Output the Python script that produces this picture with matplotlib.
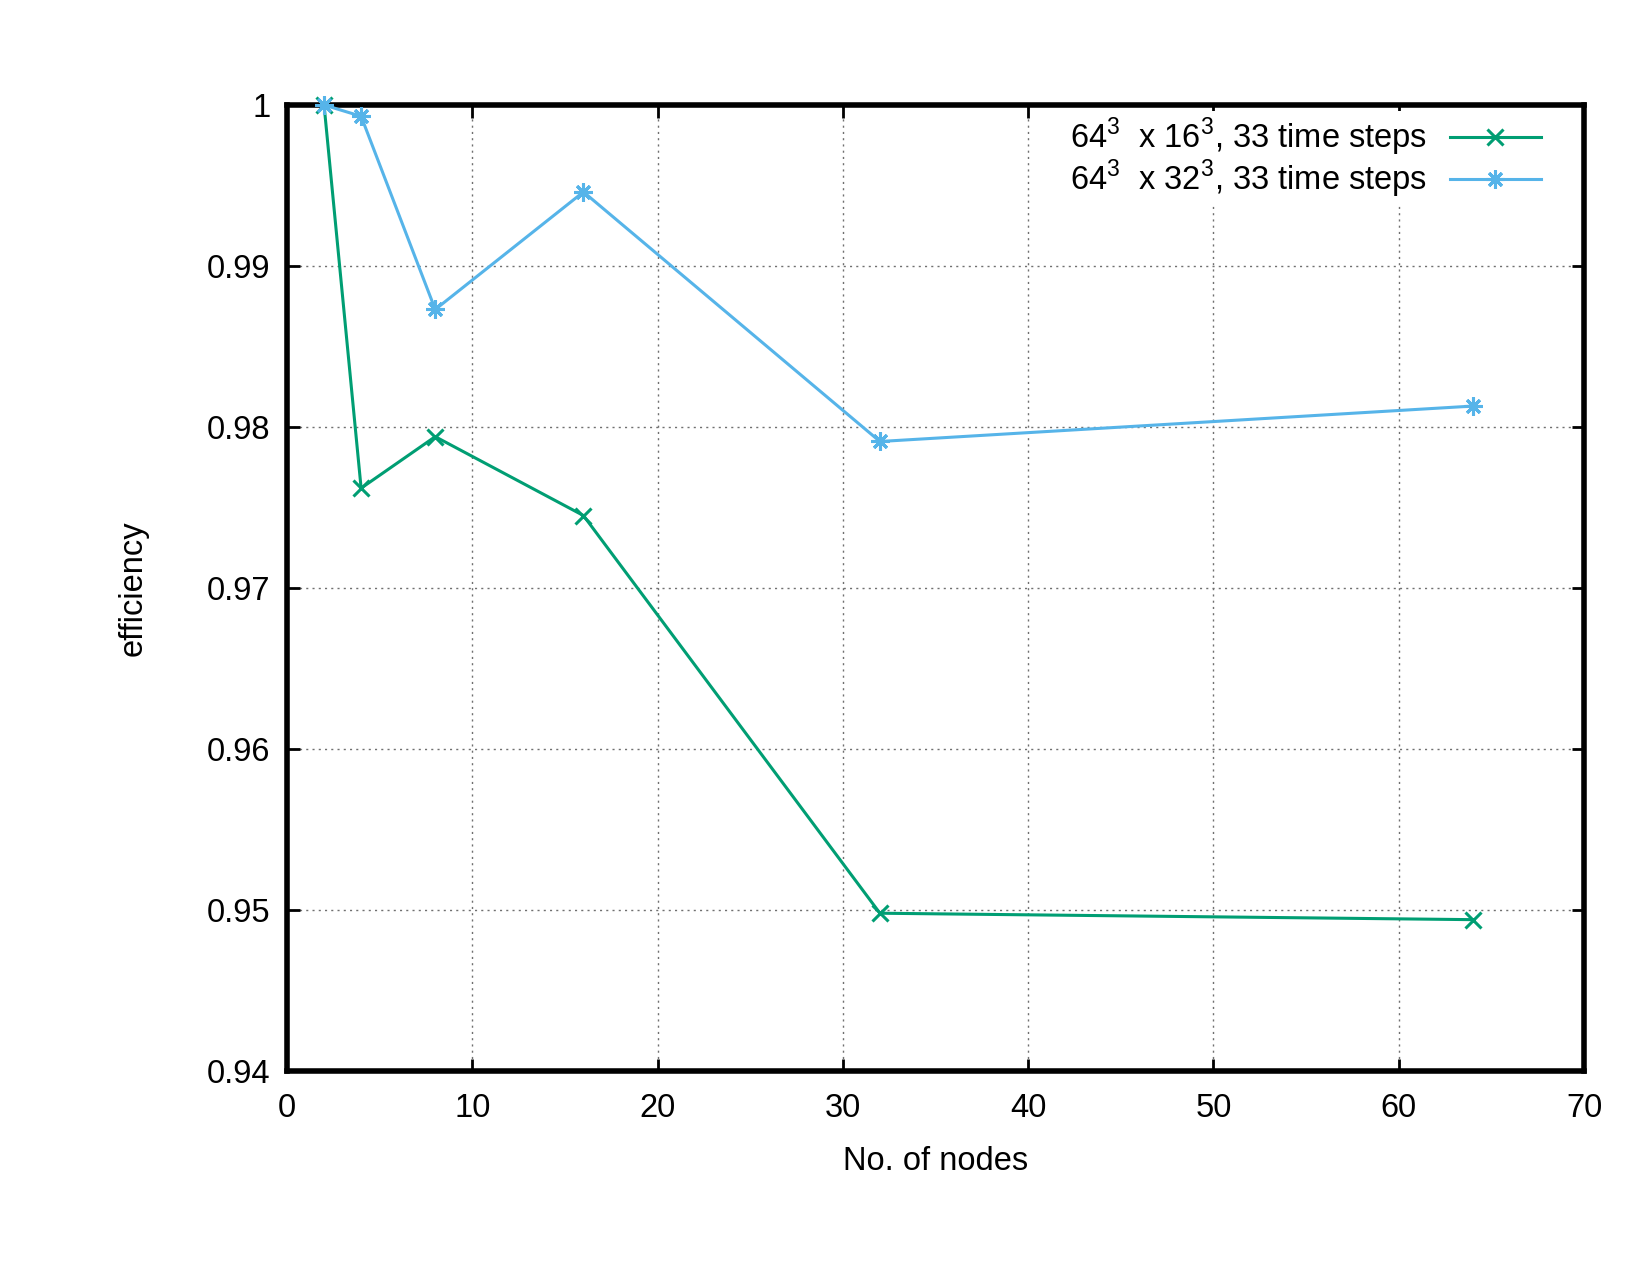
import matplotlib
matplotlib.use("Agg")
import matplotlib.pyplot as plt

plt.rcParams['font.family'] = ['Liberation Sans', 'DejaVu Sans']
plt.rcParams['mathtext.fontset'] = 'custom'
plt.rcParams['mathtext.rm'] = 'Liberation Sans'

nodes = [2, 4, 8, 16, 32, 64]
eff_16 = [1.0, 0.9762, 0.9794, 0.9745, 0.9498, 0.9494]
eff_32 = [1.0, 0.9993, 0.9873, 0.9946, 0.9791, 0.9813]
label_16 = r"64$^3$  x 16$^3$, 33 time steps"
label_32 = r"64$^3$  x 32$^3$, 33 time steps"
xticks = [0, 10, 20, 30, 40, 50, 60, 70]
yticks = [0.94, 0.95, 0.96, 0.97, 0.98, 0.99, 1.0]
yticklabels = ["0.94", "0.95", "0.96", "0.97", "0.98", "0.99", "1"]

W, H = 1650, 1275
L, R, T, B = 287, 1584, 105, 1071
fig = plt.figure(figsize=(W/100, H/100), dpi=100)
ax = fig.add_axes([L/W, 1 - B/H, (R-L)/W, (B-T)/H])

ax.plot(nodes, eff_16, color='#009e73', lw=2.2, marker='x', ms=11, mew=2.2, label=label_16, clip_on=False, zorder=3)
ax.plot(nodes, eff_32, color='#56b4e9', lw=2.2, marker=(8, 2, 0), ms=13, mew=2.2, label=label_32, clip_on=False, zorder=3)

ax.set_xlim(0, 70)
ax.set_ylim(0.94, 1.0)
ax.set_xticks(xticks)
ax.set_yticks(yticks)
ax.set_yticklabels(yticklabels)
ax.grid(True, color='#707070', linestyle=(0, (1.5, 3)), linewidth=1.0)
ax.tick_params(direction='in', length=9, width=2, top=True, right=True, labelsize=23.5)
ax.tick_params(axis='x', pad=16)
ax.tick_params(axis='y', pad=12)
for s in ax.spines.values():
    s.set_linewidth(4)

ax.set_xlabel("No. of nodes", fontsize=23.5, labelpad=16)
ax.set_ylabel("efficiency", fontsize=23.5, labelpad=42)

leg = ax.legend(loc='upper right', bbox_to_anchor=(1 - 38/(R-L), 1 - 6/(B-T)),
                markerfirst=False, frameon=True, fontsize=23.5,
                handlelength=2.8, borderaxespad=0.0, labelspacing=0.0,
                handletextpad=0.7, borderpad=0.15)
leg.get_frame().set_facecolor('white')
leg.get_frame().set_edgecolor('none')
leg.get_frame().set_alpha(1.0)
for t in leg.get_texts():
    t.set_ha('right')

fig.savefig("out.png", dpi=100)
